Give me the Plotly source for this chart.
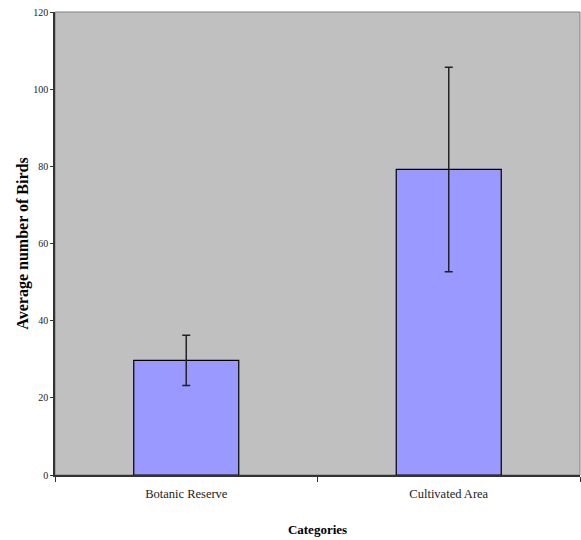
import plotly.graph_objects as go

categories = ["Botanic Reserve", "Cultivated Area"]
values = [29.7, 79.2]
errors = [6.5, 26.5]
y_ticks = [0, 20, 40, 60, 80, 100, 120]

fig = go.Figure()
fig.add_trace(go.Bar(
    x=categories, y=values,
    width=0.40,
    marker=dict(color="#9999FF", line=dict(color="#000000", width=1.2)),
    error_y=dict(type="data", array=errors, visible=True, color="#222222",
                 thickness=1.5, width=4),
))

fig.update_layout(
    width=581, height=540,
    margin=dict(l=55, r=1, t=12, b=65),
    paper_bgcolor="white",
    plot_bgcolor="#C0C0C0",
    showlegend=False,
    font=dict(family="Liberation Serif", size=10, color="#000000"),
    shapes=[dict(type="rect", xref="paper", yref="paper", x0=0, y0=0, x1=1, y1=1,
                 line=dict(color="#808080", width=1), layer="below")],
)
fig.update_xaxes(
    showline=True, linecolor="#333333", linewidth=1.5,
    ticks="outside", tickson="boundaries", ticklen=5, tickcolor="#333333",
    showgrid=False, ticklabelstandoff=6,
    tickfont=dict(family="Liberation Serif", size=12.5, color="#222222"),
    title=dict(text="<b>Categories</b>", font=dict(family="Liberation Serif", size=13), standoff=25),
)
fig.update_yaxes(
    range=[0, 120], tickvals=y_ticks,
    showline=True, linecolor="#333333", linewidth=1.5,
    ticks="outside", ticklen=3, tickcolor="#333333",
    showgrid=False, zeroline=False,
    tickfont=dict(family="Liberation Serif", size=10, color="#222222"),
    title=dict(text="<b>Average number of Birds</b>", font=dict(family="Liberation Serif", size=16), standoff=1),
)

fig.write_html("out.html", config={"displayModeBar": False},
               post_script="document.body.style.margin='0';")
